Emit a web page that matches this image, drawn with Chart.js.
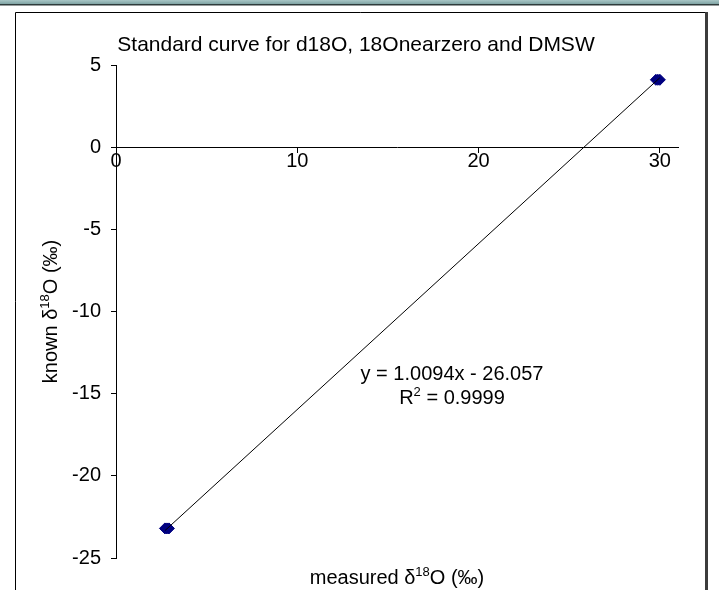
<!DOCTYPE html>
<html>
<head>
<meta charset="utf-8">
<script src="https://cdn.jsdelivr.net/npm/chart.js@4/dist/chart.umd.min.js"></script>
<style>
  html, body { margin: 0; padding: 0; background: #fff; }
  #wrap { position: absolute; left: 0; top: 0; width: 719px; height: 590px; }
</style>
</head>
<body>
<div id="wrap"><canvas id="chart" width="719" height="590"></canvas></div>
<script>
// values
const measured = [2.70, 2.81, 2.92, 29.78, 29.89, 30.00];
const known = [-23.2, -23.2, -23.2, 4.1, 4.1, 4.1];
const xTicks = [0, 10, 20, 30];
const yTicks = [-25, -20, -15, -10, -5, 0, 5];
const slope = 1.0094;
const intercept = -26.057;
const rSquared = 0.9999;

const FONT = 'Arial, "Liberation Sans", sans-serif';
const SIZE = 20;
const tickFont = { family: FONT, size: SIZE };

// Excel linear trendline endpoints, spanning the measured range
const xMin = Math.min(...measured), xMax = Math.max(...measured);
const trend = [xMin, xMax].map(x => ({ x, y: slope * x + intercept }));

// draw centred text with superscript pieces: parts = [[text, isSup], ...]
function richText(ctx, parts, x, y, size, rotate) {
  ctx.save();
  ctx.translate(x, y);
  if (rotate) ctx.rotate(-Math.PI / 2);
  ctx.textBaseline = 'alphabetic';
  ctx.textAlign = 'left';
  ctx.fillStyle = '#000';
  const supSize = Math.round(size * 0.65);
  let total = 0;
  parts.forEach(([t, sup]) => {
    ctx.font = `${sup ? supSize : size}px ${FONT}`;
    total += ctx.measureText(t).width;
  });
  let cx = -total / 2;
  parts.forEach(([t, sup]) => {
    ctx.font = `${sup ? supSize : size}px ${FONT}`;
    ctx.fillText(t, cx, sup ? -size * 0.42 : 0);
    cx += ctx.measureText(t).width;
  });
  ctx.restore();
}

const framePlugin = {
  id: 'frame',
  beforeDraw(chart) {
    const ctx = chart.ctx;
    ctx.save();
    ctx.fillStyle = '#fff';
    ctx.fillRect(0, 0, chart.width, chart.height);
    // window strip at the very top
    const g = ctx.createLinearGradient(0, 0, 0, 4);
    g.addColorStop(0, '#a9c6c6');
    g.addColorStop(1, '#7fa3a3');
    ctx.fillStyle = g;
    ctx.fillRect(0, 0, chart.width, 4);
    ctx.fillStyle = '#2f3b3b';
    ctx.fillRect(0, 4, chart.width, 1.5);
    // chart area border
    ctx.strokeStyle = '#000';
    ctx.lineWidth = 1;
    ctx.beginPath();
    ctx.moveTo(15.5, chart.height);
    ctx.lineTo(15.5, 12.5);
    ctx.lineTo(706, 12.5);
    ctx.stroke();
    ctx.fillStyle = '#3c3c3c';
    ctx.fillRect(705, 12, 3, chart.height - 12);
    ctx.restore();
  },
  afterDraw(chart) {
    const ctx = chart.ctx;
    const a = chart.chartArea;
    richText(ctx, [['Standard curve for d18O, 18Onearzero and DMSW', false]], 356, 51, 21);
    richText(ctx, [['y = ' + slope.toFixed(4) + 'x - ' + Math.abs(intercept).toFixed(3), false]], 452, 380, SIZE);
    richText(ctx, [['R', false], ['2', true], [' = ' + rSquared.toFixed(4), false]], 452, 404, SIZE);
    richText(ctx, [['measured \u03b4', false], ['18', true], ['O (\u2030)', false]], (a.left + a.right) / 2, 584, SIZE);
    richText(ctx, [['known \u03b4', false], ['18', true], ['O (\u2030)', false]], 57, (a.top + a.bottom) / 2, SIZE, true);
  }
};

new Chart(document.getElementById('chart'), {
  type: 'scatter',
  data: {
    datasets: [
      {
        label: 'trend',
        data: trend,
        showLine: true,
        borderColor: '#000',
        borderWidth: 1,
        pointRadius: 0,
        order: 0
      },
      {
        label: 'standards',
        data: measured.map((x, i) => ({ x, y: known[i] })),
        pointStyle: 'rectRot',
        pointRadius: 5.5,
        backgroundColor: '#000080',
        borderColor: '#000080',
        borderWidth: 1,
        order: 1
      }
    ]
  },
  options: {
    responsive: false,
    animation: false,
    devicePixelRatio: 1,
    layout: { padding: { left: 0, top: 65, right: 41, bottom: 32 } },
    plugins: { legend: { display: false }, tooltip: { enabled: false }, title: { display: false } },
    scales: {
      x: {
        type: 'linear',
        min: 0,
        max: 31,
        position: { y: 0 },
        afterBuildTicks: s => { s.ticks = xTicks.map(v => ({ value: v })); },
        afterFit: s => { s.height = 0; },
        grid: { drawOnChartArea: false, drawTicks: true, tickLength: 5, color: '#000' },
        border: { color: '#000', width: 1 },
        ticks: { font: tickFont, color: '#000', padding: -3, maxRotation: 0 }
      },
      y: {
        type: 'linear',
        min: -25,
        max: 5,
        position: 'left',
        afterBuildTicks: s => { s.ticks = yTicks.map(v => ({ value: v })); },
        afterFit: s => { s.width = 116; },
        grid: { drawOnChartArea: false, drawTicks: true, tickLength: 5, color: '#000' },
        border: { color: '#000', width: 1 },
        ticks: { font: tickFont, color: '#000', padding: 10 }
      }
    }
  },
  plugins: [framePlugin]
});
</script>
</body>
</html>
